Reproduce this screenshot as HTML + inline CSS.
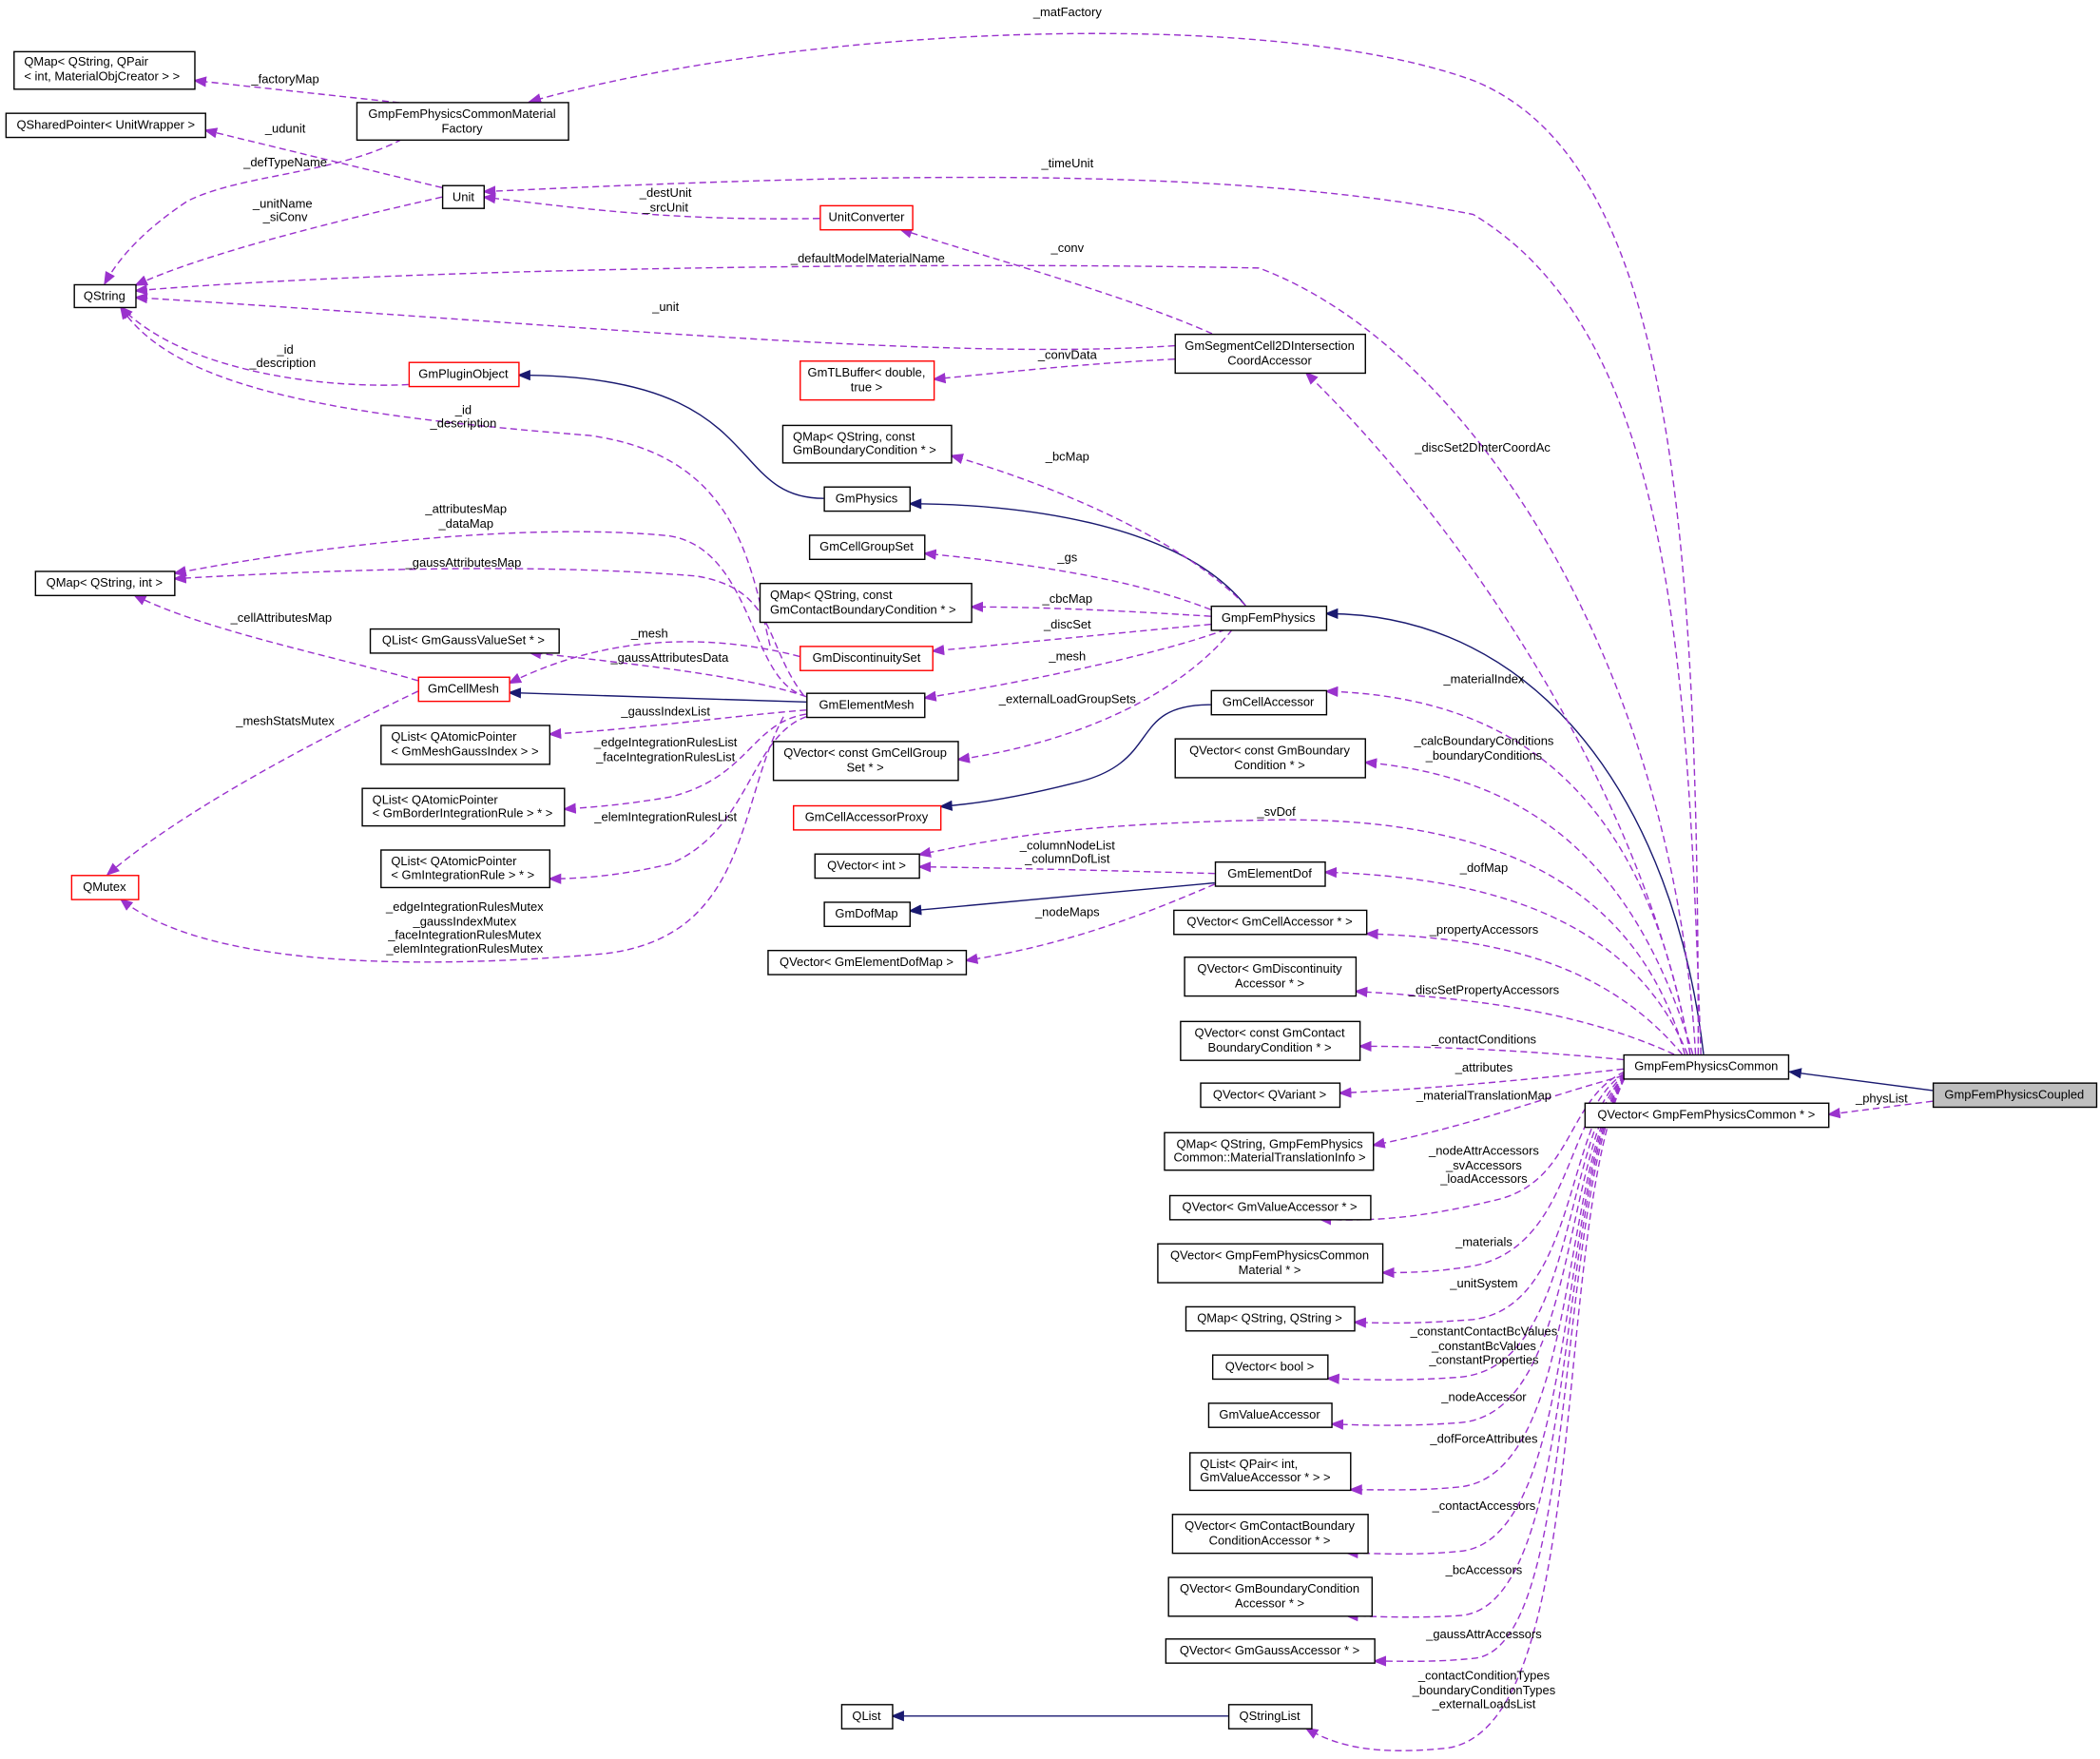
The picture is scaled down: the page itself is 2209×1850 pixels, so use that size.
<!DOCTYPE html>
<html><head><meta charset="utf-8"><style>
html,body{margin:0;padding:0;background:#fff}
svg{display:block}
text{font-family:"Liberation Sans",sans-serif;font-size:9.2px;fill:#000}
.n{fill:#fff;stroke:#000;stroke-width:1}
.r{fill:#fff;stroke:#ff0000;stroke-width:1}
.d{fill:none;stroke:#9a32cd;stroke-width:1;stroke-dasharray:5,3}
.s{fill:none;stroke:#191970;stroke-width:1}
</style></head><body>
<svg width="2209" height="1850" viewBox="0 0 1568 1313" xmlns="http://www.w3.org/2000/svg">
<defs>
<marker id="p" markerWidth="10" markerHeight="8" refX="9" refY="4" orient="auto" markerUnits="userSpaceOnUse"><path d="M0,0 L10,4 L0,8 z" fill="#9a32cd"/></marker>
<marker id="b" markerWidth="10" markerHeight="8" refX="9" refY="4" orient="auto" markerUnits="userSpaceOnUse"><path d="M0,0 L10,4 L0,8 z" fill="#191970"/></marker>
</defs>
<g>
<path class="s" marker-end="url(#b)" d="M1443,814 L1336,800"/>
<path class="s" marker-end="url(#b)" d="M1272,787 C1250,600 1150,458 990,458"/>
<path class="s" marker-end="url(#b)" d="M930,452 C880,390 760,376 679,376"/>
<path class="s" marker-end="url(#b)" d="M615,372 C540,372 575,280 387,280"/>
<path class="s" marker-end="url(#b)" d="M602,524 L380,517"/>
<path class="s" marker-end="url(#b)" d="M904,526 C840,526 870,570 800,585 C760,595 730,600 702,602"/>
<path class="s" marker-end="url(#b)" d="M907,659 L679,680"/>
<path class="s" marker-end="url(#b)" d="M917,1281 L666,1281"/>

<path class="d" marker-end="url(#p)" d="M1443,822 L1365,832"/>
<path class="d" marker-end="url(#p)" d="M330,80 L145,60"/>
<path class="d" marker-end="url(#p)" d="M1268,787 C1268,400 1250,120 1100,60 C950,5 600,18 395,76"/>
<path class="d" marker-end="url(#p)" d="M330,140 L153,97"/>
<path class="d" marker-end="url(#p)" d="M300,104 C250,130 180,130 140,150 C110,170 90,190 78,212"/>
<path class="d" marker-end="url(#p)" d="M330,147 C250,165 150,190 101,213"/>
<path class="d" marker-end="url(#p)" d="M1270,787 C1260,500 1250,250 1100,160 C900,120 600,132 361,143"/>
<path class="d" marker-end="url(#p)" d="M612,163 C500,165 430,155 361,147"/>
<path class="d" marker-end="url(#p)" d="M905,249 C840,220 730,190 672,171"/>
<path class="d" marker-end="url(#p)" d="M1266,787 C1250,500 1100,260 940,200 C700,195 300,200 101,217"/>
<path class="d" marker-end="url(#p)" d="M877,258 C700,270 400,240 101,222"/>
<path class="d" marker-end="url(#p)" d="M877,268 C800,272 750,278 697,283"/>
<path class="d" marker-end="url(#p)" d="M305,287 C250,290 140,280 90,229"/>
<path class="d" marker-end="url(#p)" d="M575,482 C560,420 550,340 440,325 C250,310 130,290 90,229"/>
<path class="d" marker-end="url(#p)" d="M1262,787 C1230,600 1100,400 975,278"/>
<path class="d" marker-end="url(#p)" d="M930,452 C880,400 780,360 710,340"/>
<path class="d" marker-end="url(#p)" d="M904,455 C840,430 760,420 690,413"/>
<path class="d" marker-end="url(#p)" d="M904,460 C840,456 780,453 725,453"/>
<path class="d" marker-end="url(#p)" d="M904,466 C840,472 760,480 696,486"/>
<path class="d" marker-end="url(#p)" d="M915,470 C860,490 760,510 690,521"/>
<path class="d" marker-end="url(#p)" d="M920,470 C880,520 800,555 715,567"/>
<path class="d" marker-end="url(#p)" d="M595,517 C560,500 560,410 500,400 C400,390 250,405 130,428"/>
<path class="d" marker-end="url(#p)" d="M600,519 C570,480 580,440 520,430 C400,420 250,425 130,432"/>
<path class="d" marker-end="url(#p)" d="M312,508 C250,490 150,470 100,444"/>
<path class="d" marker-end="url(#p)" d="M312,516 C220,560 130,610 80,653"/>
<path class="d" marker-end="url(#p)" d="M597,490 C540,475 460,470 380,510"/>
<path class="d" marker-end="url(#p)" d="M602,520 C560,505 470,495 395,487"/>
<path class="d" marker-end="url(#p)" d="M602,530 C540,535 470,545 410,548"/>
<path class="d" marker-end="url(#p)" d="M602,533 C560,540 560,580 500,595 C470,600 450,602 421,604"/>
<path class="d" marker-end="url(#p)" d="M602,535 C560,550 560,620 500,645 C470,652 440,656 410,656"/>
<path class="d" marker-end="url(#p)" d="M585,535 C550,600 560,700 450,712 C300,725 150,720 90,671"/>
<path class="d" marker-end="url(#p)" d="M1262,787 C1230,600 1140,520 990,516"/>
<path class="d" marker-end="url(#p)" d="M1264,787 C1220,640 1140,580 1019,569"/>
<path class="d" marker-end="url(#p)" d="M1258,787 C1220,650 1100,610 950,612 C800,615 750,625 686,638"/>
<path class="d" marker-end="url(#p)" d="M907,652 C830,650 760,648 686,647"/>
<path class="d" marker-end="url(#p)" d="M907,660 C860,680 800,705 721,717"/>
<path class="d" marker-end="url(#p)" d="M1260,787 C1220,690 1120,655 989,651"/>
<path class="d" marker-end="url(#p)" d="M1256,787 C1200,720 1120,700 1020,697"/>
<path class="d" marker-end="url(#p)" d="M1250,787 C1180,755 1100,745 1012,740"/>
<path class="d" marker-end="url(#p)" d="M1212,791 C1150,785 1080,781 1015,781"/>
<path class="d" marker-end="url(#p)" d="M1212,798 C1150,805 1080,812 1000,816"/>
<path class="d" marker-end="url(#p)" d="M1212,803 C1150,820 1100,840 1025,855"/>
<path class="d" marker-end="url(#p)" d="M1213,800 C1170,820 1175,880 1120,895 C1060,910 1020,912 985,910"/>
<path class="d" marker-end="url(#p)" d="M1213,801 C1168,830 1175,930 1100,945 C1070,950 1050,950 1032,950"/>
<path class="d" marker-end="url(#p)" d="M1213,802 C1168,840 1178,975 1100,985 C1060,988 1040,988 1011,987"/>
<path class="d" marker-end="url(#p)" d="M1213,803 C1166,850 1178,1020 1090,1028 C1050,1031 1020,1030 991,1029"/>
<path class="d" marker-end="url(#p)" d="M1213,803 C1166,860 1178,1055 1090,1062 C1050,1065 1020,1064 994,1063"/>
<path class="d" marker-end="url(#p)" d="M1213,804 C1164,870 1180,1100 1090,1110 C1060,1113 1030,1112 1008,1112"/>
<path class="d" marker-end="url(#p)" d="M1213,804 C1162,880 1180,1150 1090,1158 C1060,1161 1030,1160 1005,1159"/>
<path class="d" marker-end="url(#p)" d="M1213,805 C1160,890 1180,1200 1090,1206 C1060,1208 1030,1207 1005,1206"/>
<path class="d" marker-end="url(#p)" d="M1213,805 C1160,900 1180,1232 1100,1238 C1070,1241 1050,1240 1026,1240"/>
<path class="d" marker-end="url(#p)" d="M1213,805 C1158,920 1190,1290 1080,1305 C1030,1310 1000,1305 975,1290"/>
</g>

<g>
<rect class="n" x="10.5" y="38.5" width="135" height="28"/><text x="18" y="49">QMap&lt; QString, QPair</text><text x="18" y="60">&lt; int, MaterialObjCreator &gt; &gt;</text>
<rect class="n" x="4.5" y="84.5" width="149" height="18"/><text x="79" y="96" text-anchor="middle">QSharedPointer&lt; UnitWrapper &gt;</text>
<rect class="n" x="266.5" y="76.5" width="158" height="28"/><text x="345" y="88" text-anchor="middle">GmpFemPhysicsCommonMaterial</text><text x="345" y="99" text-anchor="middle">Factory</text>
<rect class="n" x="330.5" y="138.5" width="31" height="17"/><text x="346" y="150" text-anchor="middle">Unit</text>
<rect class="n" x="55.5" y="212.5" width="46" height="17"/><text x="78" y="224" text-anchor="middle">QString</text>
<rect class="r" x="612.5" y="153.5" width="69" height="18"/><text x="647" y="165" text-anchor="middle">UnitConverter</text>
<rect class="n" x="877.5" y="249.5" width="142" height="29"/><text x="948" y="261" text-anchor="middle">GmSegmentCell2DIntersection</text><text x="948" y="272" text-anchor="middle">CoordAccessor</text>
<rect class="r" x="305.5" y="270.5" width="82" height="18"/><text x="346" y="282" text-anchor="middle">GmPluginObject</text>
<rect class="r" x="597.5" y="269.5" width="100" height="29"/><text x="647" y="281" text-anchor="middle">GmTLBuffer&lt; double,</text><text x="647" y="292" text-anchor="middle">true &gt;</text>
<rect class="n" x="584.5" y="317.5" width="126" height="28"/><text x="592" y="329">QMap&lt; QString, const</text><text x="592" y="339">GmBoundaryCondition * &gt;</text>
<rect class="n" x="615.5" y="363.5" width="64" height="18"/><text x="647" y="375" text-anchor="middle">GmPhysics</text>
<rect class="n" x="604.5" y="399.5" width="86" height="18"/><text x="647" y="411" text-anchor="middle">GmCellGroupSet</text>
<rect class="n" x="567.5" y="435.5" width="158" height="29"/><text x="575" y="447">QMap&lt; QString, const</text><text x="575" y="458">GmContactBoundaryCondition * &gt;</text>
<rect class="n" x="904.5" y="452.5" width="86" height="18"/><text x="947" y="464" text-anchor="middle">GmpFemPhysics</text>
<rect class="n" x="26.5" y="426.5" width="104" height="18"/><text x="78" y="438" text-anchor="middle">QMap&lt; QString, int &gt;</text>
<rect class="n" x="276.5" y="469.5" width="141" height="18"/><text x="346" y="481" text-anchor="middle">QList&lt; GmGaussValueSet * &gt;</text>
<rect class="r" x="597.5" y="482.5" width="99" height="18"/><text x="647" y="494" text-anchor="middle">GmDiscontinuitySet</text>
<rect class="r" x="312.5" y="505.5" width="68" height="18"/><text x="346" y="517" text-anchor="middle">GmCellMesh</text>
<rect class="n" x="602.5" y="517.5" width="88" height="18"/><text x="647" y="529" text-anchor="middle">GmElementMesh</text>
<rect class="n" x="904.5" y="515.5" width="86" height="18"/><text x="947" y="527" text-anchor="middle">GmCellAccessor</text>
<rect class="n" x="284.5" y="541.5" width="126" height="29"/><text x="292" y="553">QList&lt; QAtomicPointer</text><text x="292" y="564">&lt; GmMeshGaussIndex &gt; &gt;</text>
<rect class="n" x="577.5" y="553.5" width="138" height="29"/><text x="646" y="565" text-anchor="middle">QVector&lt; const GmCellGroup</text><text x="646" y="576" text-anchor="middle">Set * &gt;</text>
<rect class="n" x="877.5" y="551.5" width="142" height="29"/><text x="948" y="563" text-anchor="middle">QVector&lt; const GmBoundary</text><text x="948" y="574" text-anchor="middle">Condition * &gt;</text>
<rect class="r" x="592.5" y="601.5" width="110" height="18"/><text x="647" y="613" text-anchor="middle">GmCellAccessorProxy</text>
<rect class="n" x="270.5" y="588.5" width="151" height="28"/><text x="278" y="600">QList&lt; QAtomicPointer</text><text x="278" y="610">&lt; GmBorderIntegrationRule &gt; * &gt;</text>
<rect class="n" x="608.5" y="637.5" width="78" height="18"/><text x="647" y="649" text-anchor="middle">QVector&lt; int &gt;</text>
<rect class="n" x="907.5" y="643.5" width="82" height="18"/><text x="948" y="655" text-anchor="middle">GmElementDof</text>
<rect class="r" x="53.5" y="653.5" width="50" height="18"/><text x="78" y="665" text-anchor="middle">QMutex</text>
<rect class="n" x="284.5" y="634.5" width="126" height="28"/><text x="292" y="646">QList&lt; QAtomicPointer</text><text x="292" y="656">&lt; GmIntegrationRule &gt; * &gt;</text>
<rect class="n" x="615.5" y="673.5" width="64" height="18"/><text x="647" y="685" text-anchor="middle">GmDofMap</text>
<rect class="n" x="876.5" y="679.5" width="144" height="18"/><text x="948" y="691" text-anchor="middle">QVector&lt; GmCellAccessor * &gt;</text>
<rect class="n" x="573.5" y="709.5" width="148" height="18"/><text x="647" y="721" text-anchor="middle">QVector&lt; GmElementDofMap &gt;</text>
<rect class="n" x="884.5" y="714.5" width="128" height="29"/><text x="948" y="726" text-anchor="middle">QVector&lt; GmDiscontinuity</text><text x="948" y="737" text-anchor="middle">Accessor * &gt;</text>
<rect class="n" x="881.5" y="762.5" width="134" height="29"/><text x="948" y="774" text-anchor="middle">QVector&lt; const GmContact</text><text x="948" y="785" text-anchor="middle">BoundaryCondition * &gt;</text>
<rect class="n" x="1212.5" y="787.5" width="123" height="18"/><text x="1274" y="799" text-anchor="middle">GmpFemPhysicsCommon</text>
<rect x="1443.5" y="808.5" width="122" height="18" fill="#bfbfbf" stroke="#000"/><text x="1504" y="820" text-anchor="middle">GmpFemPhysicsCoupled</text>
<rect class="n" x="1183.5" y="823.5" width="182" height="18"/><text x="1274" y="835" text-anchor="middle">QVector&lt; GmpFemPhysicsCommon * &gt;</text>
<rect class="n" x="896.5" y="808.5" width="104" height="18"/><text x="948" y="820" text-anchor="middle">QVector&lt; QVariant &gt;</text>
<rect class="n" x="869.5" y="845.5" width="156" height="28"/><text x="948" y="857" text-anchor="middle">QMap&lt; QString, GmpFemPhysics</text><text x="948" y="867" text-anchor="middle">Common::MaterialTranslationInfo &gt;</text>
<rect class="n" x="873.5" y="892.5" width="150" height="18"/><text x="948" y="904" text-anchor="middle">QVector&lt; GmValueAccessor * &gt;</text>
<rect class="n" x="864.5" y="928.5" width="168" height="29"/><text x="948" y="940" text-anchor="middle">QVector&lt; GmpFemPhysicsCommon</text><text x="948" y="951" text-anchor="middle">Material * &gt;</text>
<rect class="n" x="885.5" y="975.5" width="126" height="18"/><text x="948" y="987" text-anchor="middle">QMap&lt; QString, QString &gt;</text>
<rect class="n" x="905.5" y="1011.5" width="86" height="18"/><text x="948" y="1023" text-anchor="middle">QVector&lt; bool &gt;</text>
<rect class="n" x="902.5" y="1047.5" width="92" height="18"/><text x="948" y="1059" text-anchor="middle">GmValueAccessor</text>
<rect class="n" x="888.5" y="1084.5" width="120" height="28"/><text x="896" y="1096">QList&lt; QPair&lt; int,</text><text x="896" y="1106">GmValueAccessor * &gt; &gt;</text>
<rect class="n" x="875.5" y="1130.5" width="146" height="29"/><text x="948" y="1142" text-anchor="middle">QVector&lt; GmContactBoundary</text><text x="948" y="1153" text-anchor="middle">ConditionAccessor * &gt;</text>
<rect class="n" x="872.5" y="1177.5" width="152" height="29"/><text x="948" y="1189" text-anchor="middle">QVector&lt; GmBoundaryCondition</text><text x="948" y="1200" text-anchor="middle">Accessor * &gt;</text>
<rect class="n" x="870.5" y="1223.5" width="156" height="18"/><text x="948" y="1235" text-anchor="middle">QVector&lt; GmGaussAccessor * &gt;</text>
<rect class="n" x="628.5" y="1272.5" width="38" height="18"/><text x="647" y="1284" text-anchor="middle">QList</text>
<rect class="n" x="917.5" y="1272.5" width="62" height="18"/><text x="948" y="1284" text-anchor="middle">QStringList</text>
</g>

<g text-anchor="middle">
<text x="1405" y="823">_physList</text>
<text x="213" y="62">_factoryMap</text>
<text x="797" y="12">_matFactory</text>
<text x="213" y="99">_udunit</text>
<text x="213" y="124">_defTypeName</text>
<text x="211" y="155">_unitName</text><text x="213" y="165">_siConv</text>
<text x="797" y="125">_timeUnit</text>
<text x="497" y="147">_destUnit</text><text x="497" y="158">_srcUnit</text>
<text x="797" y="188">_conv</text>
<text x="648" y="196">_defaultModelMaterialName</text>
<text x="497" y="232">_unit</text>
<text x="797" y="268">_convData</text>
<text x="213" y="264">_id</text><text x="211" y="274">_description</text>
<text x="346" y="309">_id</text><text x="346" y="319">_description</text>
<text x="1107" y="337">_discSet2DInterCoordAc</text>
<text x="797" y="344">_bcMap</text>
<text x="797" y="419">_gs</text>
<text x="797" y="450">_cbcMap</text>
<text x="797" y="469">_discSet</text>
<text x="797" y="493">_mesh</text>
<text x="797" y="525">_externalLoadGroupSets</text>
<text x="348" y="383">_attributesMap</text><text x="348" y="394">_dataMap</text>
<text x="346" y="423">_gaussAttributesMap</text>
<text x="210" y="464">_cellAttributesMap</text>
<text x="213" y="541">_meshStatsMutex</text>
<text x="485" y="476">_mesh</text>
<text x="500" y="494">_gaussAttributesData</text>
<text x="497" y="534">_gaussIndexList</text>
<text x="497" y="557">_edgeIntegrationRulesList</text><text x="497" y="568">_faceIntegrationRulesList</text>
<text x="497" y="613">_elemIntegrationRulesList</text>
<text x="347" y="680">_edgeIntegrationRulesMutex</text><text x="347" y="691">_gaussIndexMutex</text><text x="347" y="701">_faceIntegrationRulesMutex</text><text x="347" y="711">_elemIntegrationRulesMutex</text>
<text x="1108" y="510">_materialIndex</text>
<text x="1108" y="556">_calcBoundaryConditions</text><text x="1108" y="567">_boundaryConditions</text>
<text x="953" y="609">_svDof</text>
<text x="797" y="634">_columnNodeList</text><text x="797" y="644">_columnDofList</text>
<text x="797" y="684">_nodeMaps</text>
<text x="1108" y="651">_dofMap</text>
<text x="1108" y="697">_propertyAccessors</text>
<text x="1108" y="742">_discSetPropertyAccessors</text>
<text x="1108" y="779">_contactConditions</text>
<text x="1108" y="800">_attributes</text>
<text x="1108" y="821">_materialTranslationMap</text>
<text x="1108" y="862">_nodeAttrAccessors</text><text x="1108" y="873">_svAccessors</text><text x="1108" y="883">_loadAccessors</text>
<text x="1108" y="930">_materials</text>
<text x="1108" y="961">_unitSystem</text>
<text x="1108" y="997">_constantContactBcValues</text><text x="1108" y="1008">_constantBcValues</text><text x="1108" y="1018">_constantProperties</text>
<text x="1108" y="1046">_nodeAccessor</text>
<text x="1108" y="1077">_dofForceAttributes</text>
<text x="1108" y="1127">_contactAccessors</text>
<text x="1108" y="1175">_bcAccessors</text>
<text x="1108" y="1223">_gaussAttrAccessors</text>
<text x="1108" y="1254">_contactConditionTypes</text><text x="1108" y="1265">_boundaryConditionTypes</text><text x="1108" y="1275">_externalLoadsList</text>
</g>
</svg>
</body></html>
